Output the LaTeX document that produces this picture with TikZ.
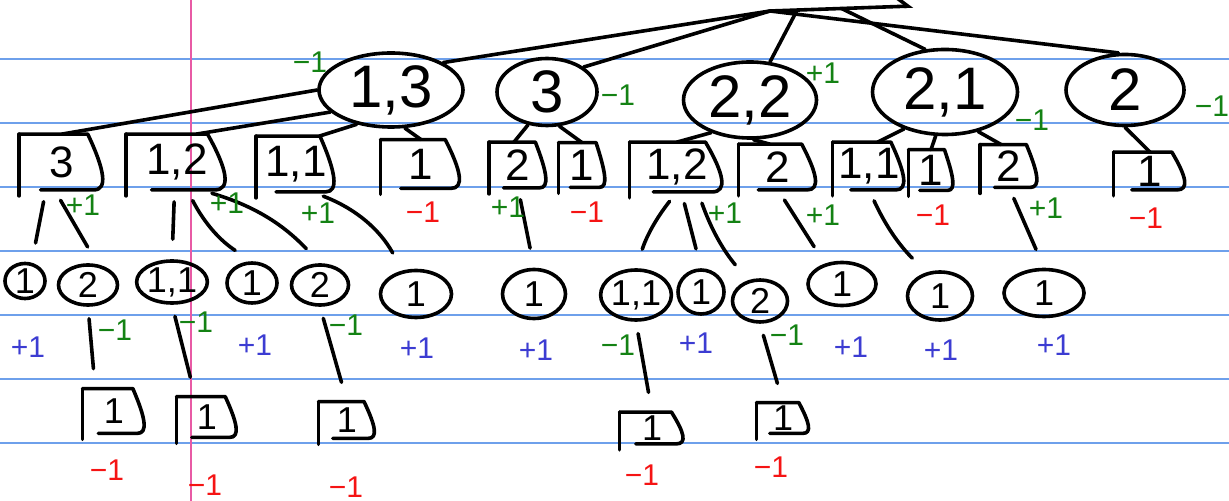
\documentclass[tikz,border=0pt]{standalone}
\usepackage{fontspec}
\setmainfont{Liberation Sans}
\usetikzlibrary{shapes.geometric, arrows.meta, calc, positioning}
\definecolor{rulebl}{RGB}{110,160,235}
\definecolor{marginpk}{RGB}{232,90,165}
\definecolor{inkgreen}{RGB}{20,130,20}
\definecolor{inkred}{RGB}{245,20,20}
\definecolor{inkblue}{RGB}{60,60,210}
\tikzset{
  pen/.style={line width=1.8pt, line cap=round, line join=round},
  pair/.style={
    ellipse, draw, pen, inner sep=0pt, font=\fontsize{30}{30}\selectfont
  },
  single/.style={
    ellipse, draw, pen, inner sep=0pt, font=\fontsize{18}{18}\selectfont
  },
  leaf/.style={
    rectangle, inner sep=0pt, font=\fontsize{22}{22}\selectfont
  },
  smallleaf/.style={leaf, font=\fontsize{18}{18}\selectfont},
  link/.style={pen},
  stub/.style={pen, shorten <=6pt, shorten >=10pt},
  scoregreen/.style={text=inkgreen, font=\fontsize{15}{15}\selectfont},
  scorered/.style={text=inkred, font=\fontsize{15}{15}\selectfont},
  scoreblue/.style={text=inkblue, font=\fontsize{15}{15}\selectfont},
  rule/.style={rulebl, line width=0.6pt},
  margin/.style={marginpk, line width=0.6pt}
}
\begin{document}
\begin{tikzpicture}[x=0.5pt, y=-0.5pt]
  \fill[white] (0,0) rectangle (1229,501);
  \useasboundingbox (0,0) rectangle (1229,501);
  % ruled paper
  \foreach \y in {59,123,187,251,315,379,443}
    \draw[rule] (0,\y) -- (1229,\y);
  \draw[margin] (191,0) -- (191,501);

  % first level
  \node[pair, minimum width=72pt, minimum height=37pt] (c13) at (391,90) {1,3};
  \node[pair, minimum width=50pt, minimum height=33.5pt] (c3) at (547,92) {3};
  \node[pair, minimum width=66.5pt, minimum height=38pt] (c22) at (750,100) {2,2};
  \node[pair, minimum width=72.5pt, minimum height=42.5pt] (c21) at (945,92) {2,1};
  \node[pair, minimum width=59pt, minimum height=35.5pt] (c2) at (1125,90) {2};

  % second level
  \node[leaf, minimum width=42.5pt, minimum height=27.5pt] (b3) at (62,162) {3};
  \node[leaf, minimum width=50.5pt, minimum height=27.5pt] (b12) at (177,162) {1,2};
  \node[leaf, minimum width=39.5pt, minimum height=27.5pt] (b11) at (296,164) {1,1};
  \node[leaf, minimum width=40pt, minimum height=24pt] (b1a) at (421,164) {1};
  \node[leaf, minimum width=28.5pt, minimum height=22.5pt] (b2a) at (518,165) {2};
  \node[leaf, minimum width=23pt, minimum height=22pt] (b1b) at (582,165) {1};
  \node[leaf, minimum width=47pt, minimum height=24.5pt] (b12b) at (677,167) {1,2};
  \node[leaf, minimum width=39pt, minimum height=22.5pt] (b2b) at (778,167) {2};
  \node[leaf, minimum width=36pt, minimum height=23.5pt] (b11b) at (869,166) {1,1};
  \node[leaf, minimum width=22pt, minimum height=20pt] (b1c) at (931,170) {1};
  \node[leaf, minimum width=28.5pt, minimum height=21pt] (b2c) at (1009,166) {2};
  \node[leaf, minimum width=36pt, minimum height=18.5pt] (b1d) at (1150,171) {1};

  % third level
  \node[single, minimum width=20pt, minimum height=17.5pt] (d1) at (25,281) {1};
  \node[single, minimum width=29.5pt, minimum height=20pt] (d2) at (88,285) {2};
  \node[single, minimum width=34pt, minimum height=21pt] (d11) at (172,282) {1,1};
  \node[single, minimum width=25pt, minimum height=20pt] (d1b) at (252,283) {1};
  \node[single, minimum width=28.5pt, minimum height=20pt] (d2b) at (320,285) {2};
  \node[single, minimum width=35.5pt, minimum height=23.5pt] (d1c) at (416,294) {1};
  \node[single, minimum width=31.5pt, minimum height=24.5pt] (d1d) at (534,294) {1};
  \node[single, minimum width=33.5pt, minimum height=25pt] (d11b) at (636,295) {1,1};
  \node[single, minimum width=23pt, minimum height=22pt] (d1e) at (701,292) {1};
  \node[single, minimum width=27.5pt, minimum height=21pt] (d2c) at (760,301) {2};
  \node[single, minimum width=34pt, minimum height=21.5pt] (d1f) at (842,284) {1};
  \node[single, minimum width=32.5pt, minimum height=24pt] (d1g) at (940,296) {1};
  \node[single, minimum width=40pt, minimum height=23.5pt] (d1h) at (1044,293) {1};

  % fourth level
  \node[smallleaf, minimum width=31pt, minimum height=22pt] (e1) at (114,411) {1};
  \node[smallleaf, minimum width=30pt, minimum height=20pt] (e2) at (207,417) {1};
  \node[smallleaf, minimum width=28pt, minimum height=18pt] (e3) at (347,420) {1};
  \node[smallleaf, minimum width=32pt, minimum height=15.5pt] (e4) at (652,428) {1};
  \node[smallleaf, minimum width=26pt, minimum height=15pt] (e5) at (783,418) {1};

  % hand drawn boxes
  \foreach \b in {b3,b12,b11,b1a,b2a,b1b,b12b,b2b,b11b,b1c,b2c,b1d,e1,e2,e3,e4,e5} {
    \draw[pen] (\b.north west) -- ([yshift=-3pt]\b.south west);
    \draw[pen] (\b.north west) -- ($(\b.north west)!0.8!(\b.north east)$)
      .. controls ($(\b.east)!0.3!(\b.south east)$) and ($(\b.south east)+(3,0)$)
      .. ($(\b.south west)!0.87!(\b.south east)$)
      -- ($(\b.south west)!0.25!(\b.south east)$);
  }

  % root strokes
  \coordinate (root) at (770,11);
  \coordinate (barend) at (913,6);
  \draw[pen, -{Straight Barb[left, length=5pt, width=8pt]}] (root)
    -- coordinate[pos=0.19] (j22) coordinate[pos=0.5] (j21) (barend);
  \draw[link] (root) -- (c13.north east);
  \draw[link] (root) -- (c3.north east);
  \draw[link] (j22) -- (c22);
  \draw[link] (j21) -- (c21.115);
  \draw[link] (root) -- (c2.100);

  \draw[link] (c13.west) -- (b3.north);
  \draw[link] (c13.200) -- (b12.55);
  \draw[link] (c13.225) -- (b11.50);
  \draw[link] (c13.290) -- (b1a.north);
  \draw[link] (c3.240) -- (b2a.100);
  \draw[link] (c3.290) -- (b1b.north);
  \draw[link] (c22.220) -- (b12b.north);
  \draw[link] (c22.275) -- (b2b.110);
  \draw[link] (c21.222) -- (b11b.70);
  \draw[link] (c21.258) -- (b1c.north);
  \draw[link] (c21.310) -- (b2c.110);
  \draw[link] (c2.south) -- (b1d.north);

  \draw[stub] (b3.240) -- (d1.70);
  \draw[stub] (b3.255) -- (d2.65);
  \draw[stub] (b12.265) -- (d11.north);
  \draw[stub] (b12.290) to[bend right=15] (d1b.north);
  \draw[stub] (b12.310) to[bend left=15] (d2b.north);
  \draw[stub] (b11.300) to[bend left=20] (d1c.120);
  \draw[stub] (b2a.south) -- (d1d.north);
  \draw[stub] (b12b.south) to[bend right=10] (d11b.north);
  \draw[stub] (b12b.280) -- (d1e.north);
  \draw[stub] (b12b.310) to[bend right=10] (d2c.120);
  \draw[stub] (b2b.south) -- (d1f.130);
  \draw[stub] (b11b.south) to[bend right=10] (d1g.120);
  \draw[stub] (b2c.south) -- (d1h.north);

  \draw[stub] (d2.south) -- (e1.130);
  \draw[stub] (d11.south) -- (e2.120);
  \draw[stub] (d2b.south) -- (e3.north);
  \draw[stub] (d11b.south) -- (e4.north);
  \draw[stub] (d2c.south) -- (e5.north);

  % scores
  \node[scoregreen] (s13) at (310,62) {−1};
  \node[scoregreen] (s3) at (618,95) {−1};
  \node[scoregreen] (s22) at (823,73) {+1};
  \node[scoregreen] (s21) at (1032,120) {−1};
  \node[scoregreen] (s2) at (1212,106) {−1};

  \node[scoregreen] (t3) at (83,205) {+1};
  \node[scoregreen] (t12) at (227,203) {+1};
  \node[scoregreen] (t11) at (318,213) {+1};
  \node[scorered] (t1a) at (423,212) {−1};
  \node[scoregreen] (t2a) at (508,207) {+1};
  \node[scorered] (t1b) at (587,212) {−1};
  \node[scoregreen] (t12b) at (725,213) {+1};
  \node[scoregreen] (t2b) at (823,215) {+1};
  \node[scorered] (t11b) at (933,215) {−1};
  \node[scoregreen] (t2c) at (1046,208) {+1};
  \node[scorered] (t1d) at (1146,218) {−1};

  \node[scoreblue] (u1) at (28,347) {+1};
  \node[scoregreen] (u2) at (115,330) {−1};
  \node[scoregreen] (u11) at (196,322) {−1};
  \node[scoreblue] (u1b) at (255,345) {+1};
  \node[scoregreen] (u2b) at (346,325) {−1};
  \node[scoreblue] (u1c) at (417,348) {+1};
  \node[scoreblue] (u1d) at (536,350) {+1};
  \node[scoregreen] (u11b) at (618,345) {−1};
  \node[scoreblue] (u1e) at (696,343) {+1};
  \node[scoregreen] (u2c) at (787,335) {−1};
  \node[scoreblue] (u1f) at (851,347) {+1};
  \node[scoreblue] (u1g) at (941,350) {+1};
  \node[scoreblue] (u1h) at (1054,345) {+1};

  \node[scorered] (v1) at (107,470) {−1};
  \node[scorered] (v2) at (205,485) {−1};
  \node[scorered] (v3) at (346,487) {−1};
  \node[scorered] (v4) at (642,475) {−1};
  \node[scorered] (v5) at (771,467) {−1};
\end{tikzpicture}
\end{document}
